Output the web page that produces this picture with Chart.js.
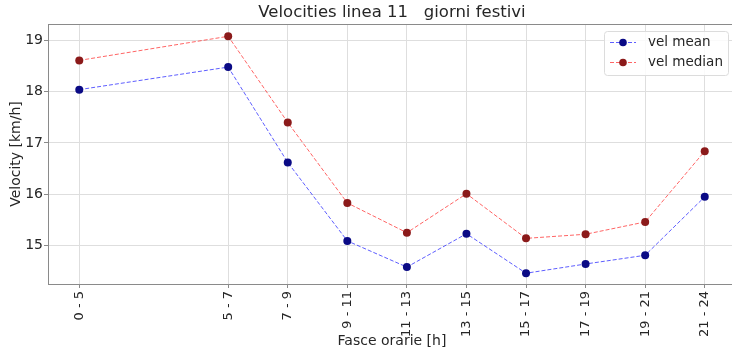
<!DOCTYPE html>
<html>
<head>
<meta charset="utf-8">
<script src="https://cdn.jsdelivr.net/npm/chart.js@4.4.1/dist/chart.umd.min.js"></script>
<style>
html,body{margin:0;padding:0;background:#fff;overflow:hidden;}
#wrap{width:740px;height:351px;position:relative;}
</style>
</head>
<body>
<div id="wrap"><canvas id="c" width="740" height="351"></canvas></div>
<script>
const categories = ["0 - 5","5 - 7","7 - 9","9 - 11","11 - 13","13 - 15","15 - 17","17 - 19","19 - 21","21 - 24"];
const startHours = [0,5,7,9,11,13,15,17,19,21];
const velMean   = [18.04,18.48,16.62,15.09,14.58,15.23,14.46,14.64,14.81,15.95];
const velMedian = [18.61,19.08,17.40,15.83,15.25,16.01,15.14,15.22,15.46,16.84];
const yTicks = [15,16,17,18,19];
const titleText = "Velocities linea 11   giorni festivi";

const FONT = "'DejaVu Sans', sans-serif";
const TXT = '#262626';

const framePlugin = {
  id: 'frame',
  afterDraw(chart) {
    const {ctx, chartArea: a} = chart;
    ctx.save();
    ctx.strokeStyle = '#8a8a8a';
    ctx.lineWidth = 1;
    ctx.strokeRect(Math.round(a.left)+0.5, Math.round(a.top)+0.5, Math.round(a.right-a.left), Math.round(a.bottom-a.top));
    // title
    ctx.fillStyle = TXT;
    ctx.font = "16.5px " + FONT;
    ctx.textAlign = 'center';
    ctx.textBaseline = 'middle';
    ctx.fillText(titleText, (a.left + a.right)/2, 13);
    // legend
    const lx = 604, ly = 31, lw = 124, lh = 44;
    ctx.fillStyle = 'rgba(255,255,255,0.85)';
    ctx.strokeStyle = '#dcdcdc';
    ctx.beginPath();
    if (ctx.roundRect) ctx.roundRect(lx+0.5, ly+0.5, lw, lh, 3); else ctx.rect(lx+0.5, ly+0.5, lw, lh);
    ctx.fill(); ctx.stroke();
    chart.data.datasets.forEach((ds, i) => {
      const y = 42 + i*20;
      ctx.strokeStyle = ds.borderColor;
      ctx.lineWidth = 1;
      ctx.setLineDash(ds.borderDash);
      ctx.beginPath(); ctx.moveTo(610, y+0.5); ctx.lineTo(636, y+0.5); ctx.stroke();
      ctx.setLineDash([]);
      ctx.fillStyle = ds.pointBackgroundColor;
      ctx.beginPath(); ctx.arc(623, y+0.5, 3.8, 0, Math.PI*2); ctx.fill();
      ctx.fillStyle = TXT;
      ctx.font = "13.5px " + FONT;
      ctx.textAlign = 'left';
      ctx.textBaseline = 'middle';
      ctx.fillText(ds.label, 648, y);
    });
    ctx.restore();
  }
};

new Chart(document.getElementById('c'), {
  type: 'line',
  data: {
    datasets: [
      {
        label: 'vel mean',
        data: startHours.map((x,i)=>({x, y: velMean[i]})),
        borderColor: 'rgba(40,40,255,0.75)',
        borderWidth: 1,
        borderDash: [4,2],
        pointBackgroundColor: '#0a0a85',
        pointBorderColor: '#0a0a85',
        pointRadius: 4,
        pointBorderWidth: 0,
        tension: 0
      },
      {
        label: 'vel median',
        data: startHours.map((x,i)=>({x, y: velMedian[i]})),
        borderColor: 'rgba(255,50,50,0.75)',
        borderWidth: 1,
        borderDash: [4,2],
        pointBackgroundColor: '#8b1a1a',
        pointBorderColor: '#8b1a1a',
        pointRadius: 4,
        pointBorderWidth: 0,
        tension: 0
      }
    ]
  },
  options: {
    responsive: false,
    animation: false,
    layout: { padding: { top: 24, right: 4, left: 0, bottom: 0 } },
    plugins: { legend: { display: false }, title: { display: false }, tooltip: { enabled: false } },
    scales: {
      x: {
        type: 'linear',
        min: -1.05, max: 22.05,
        afterBuildTicks(s) { s.ticks = startHours.map(v => ({value: v})); },
        afterFit(s) { s.height = 67; },
        grid: { color: '#dedede', lineWidth: 1, tickLength: 4, tickColor: '#8a8a8a' },
        border: { display: false },
        ticks: {
          autoSkip: false, maxRotation: 90, minRotation: 90, padding: 3,
          color: TXT, font: { family: FONT, size: 13 },
          callback: (v) => { const i = startHours.indexOf(v); return i >= 0 ? categories[i] : ''; }
        },
        title: { display: true, text: 'Fasce orarie [h]', color: TXT, font: { family: FONT, size: 14 }, padding: { top: 0, bottom: 1 } }
      },
      y: {
        min: 14.25, max: 19.32,
        afterBuildTicks(s) { s.ticks = yTicks.map(v => ({value: v})); },
        afterFit(s) { s.width = 48; },
        grid: { color: '#dedede', lineWidth: 1, tickLength: 4, tickColor: '#8a8a8a' },
        border: { display: false },
        ticks: { color: TXT, font: { family: FONT, size: 14 }, padding: 1 },
        title: { display: true, text: 'Velocity [km/h]', color: TXT, font: { family: FONT, size: 14 }, padding: { top: 8, bottom: 0 } }
      }
    }
  },
  plugins: [framePlugin]
});
</script>
</body>
</html>
